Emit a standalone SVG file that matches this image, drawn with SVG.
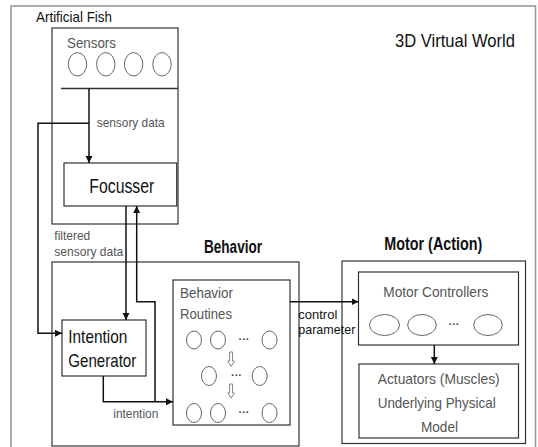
<svg xmlns="http://www.w3.org/2000/svg" width="538" height="447" viewBox="0 0 538 447">
<defs>
<marker id="ah" markerUnits="userSpaceOnUse" markerWidth="8" markerHeight="8" refX="7" refY="3.5" orient="auto">
<path d="M0,0 L7,3.5 L0,7 Z" fill="#111"/>
</marker>
</defs>
<style>
.box{fill:none;stroke:#333;stroke-width:1.2}
.frame{fill:none;stroke:#9a9a9a;stroke-width:1.6}
.ell{fill:none;stroke:#666;stroke-width:1}
.t{font-family:"Liberation Sans",Arial,sans-serif;fill:#111}
.g{font-family:"Liberation Sans",Arial,sans-serif;fill:#555}
.d{font-family:"Liberation Sans",Arial,sans-serif;fill:#444;font-weight:bold}
.b{font-family:"Liberation Sans",Arial,sans-serif;font-weight:bold;fill:#111}
.c{fill:none;stroke:#111;stroke-width:1.5}
.da{fill:#fff;stroke:#777;stroke-width:0.9}
</style>
<rect width="538" height="447" fill="#fff"/>
<g id="world">
<rect class="frame" x="11" y="6" width="524.5" height="470"/>
<text class="t" x="395" y="46.5" font-size="19" textLength="120" lengthAdjust="spacingAndGlyphs">3D Virtual World</text>
</g>
<g id="artificial-fish">
<rect class="box" x="52" y="28" width="126" height="196"/>
<text class="t" x="36" y="22" font-size="15" textLength="76" lengthAdjust="spacingAndGlyphs">Artificial Fish</text>
</g>
<g id="sensors">
<text class="g" x="67" y="48" font-size="14.5" textLength="49" lengthAdjust="spacingAndGlyphs">Sensors</text>
<ellipse class="ell" cx="77.5" cy="64.3" rx="9.2" ry="11.7"/>
<ellipse class="ell" cx="105.8" cy="64.3" rx="9.2" ry="11.7"/>
<ellipse class="ell" cx="133.6" cy="64.3" rx="9.2" ry="11.7"/>
<ellipse class="ell" cx="162" cy="64.3" rx="9.2" ry="11.7"/>
<line x1="61" y1="88.5" x2="178" y2="88.5" stroke="#333" stroke-width="1.3"/>
</g>
<g id="focusser">
<rect class="box" x="64" y="163" width="112.7" height="43"/>
<text class="t" x="89.3" y="193" font-size="20.5" textLength="65" lengthAdjust="spacingAndGlyphs">Focusser</text>
</g>
<g id="behavior">
<rect class="box" x="52" y="262" width="247" height="184"/>
<text class="b" x="204" y="253" font-size="17.5" textLength="58" lengthAdjust="spacingAndGlyphs">Behavior</text>
</g>
<g id="intention-generator">
<rect class="box" x="62" y="320" width="84" height="56"/>
<text class="t" x="68.3" y="343" font-size="19" textLength="59" lengthAdjust="spacingAndGlyphs">Intention</text>
<text class="t" x="68.3" y="366.5" font-size="19" textLength="68" lengthAdjust="spacingAndGlyphs">Generator</text>
</g>
<g id="behavior-routines">
<rect class="box" x="173" y="280" width="117" height="145"/>
<text class="g" x="180" y="298" font-size="14.5" textLength="53" lengthAdjust="spacingAndGlyphs">Behavior</text>
<text class="g" x="180" y="319" font-size="14.5" textLength="52" lengthAdjust="spacingAndGlyphs">Routines</text>
<ellipse class="ell" cx="194" cy="340" rx="7.5" ry="9"/>
<ellipse class="ell" cx="218" cy="340" rx="7.5" ry="9"/>
<text class="d" x="244" y="343" font-size="11" text-anchor="middle">···</text>
<ellipse class="ell" cx="269.5" cy="340" rx="7.5" ry="9"/>
<polygon class="da" points="229.6,352 232.6,352 232.6,361 234.4,361 231.1,366.5 227.8,361 229.6,361"/>
<ellipse class="ell" cx="209" cy="376" rx="7.5" ry="9.5"/>
<text class="d" x="236.5" y="379" font-size="11" text-anchor="middle">···</text>
<ellipse class="ell" cx="259.7" cy="376" rx="7.5" ry="9.5"/>
<polygon class="da" points="229.6,384 232.6,384 232.6,393 234.4,393 231.1,398 227.8,393 229.6,393"/>
<ellipse class="ell" cx="194" cy="413" rx="7.5" ry="9.5"/>
<ellipse class="ell" cx="218" cy="413" rx="7.5" ry="9.5"/>
<text class="d" x="244" y="416" font-size="11" text-anchor="middle">···</text>
<ellipse class="ell" cx="269.5" cy="413" rx="7.5" ry="9.5"/>
</g>
<g id="motor">
<rect class="box" x="342" y="261" width="183.5" height="182.5"/>
<text class="b" x="384.3" y="250" font-size="17.5" textLength="98" lengthAdjust="spacingAndGlyphs">Motor (Action)</text>
</g>
<g id="motor-controllers">
<rect class="box" x="358.5" y="272" width="160" height="73"/>
<text class="g" x="383.3" y="296.5" font-size="14.5" textLength="105" lengthAdjust="spacingAndGlyphs">Motor Controllers</text>
<ellipse class="ell" cx="384.5" cy="325" rx="15" ry="10.5"/>
<ellipse class="ell" cx="422" cy="325" rx="14.3" ry="10.5"/>
<text class="d" x="454" y="328" font-size="11" text-anchor="middle">···</text>
<ellipse class="ell" cx="488" cy="325" rx="14.3" ry="10.5"/>
</g>
<g id="actuators">
<rect class="box" x="359" y="364" width="159.5" height="74"/>
<text class="g" x="377.7" y="384" font-size="14.5" textLength="122" lengthAdjust="spacingAndGlyphs">Actuators (Muscles)</text>
<text class="g" x="377.7" y="408" font-size="14.5" textLength="118" lengthAdjust="spacingAndGlyphs">Underlying Physical</text>
<text class="g" x="421" y="432" font-size="14.5" textLength="37" lengthAdjust="spacingAndGlyphs">Model</text>
</g>
<g id="connectors">
<path class="c" d="M89,88.5 V163" marker-end="url(#ah)"/>
<path class="c" d="M89,123.3 H38 V333.3 H62" marker-end="url(#ah)"/>
<path class="c" d="M126,206 V320" marker-end="url(#ah)"/>
<path class="c" d="M103.3,376 V401.7 H173" marker-end="url(#ah)"/>
<path class="c" d="M155,401.7 V301.7 H136.7 V206" marker-end="url(#ah)"/>
<path class="c" d="M290,301.7 H358.5" marker-end="url(#ah)"/>
<path class="c" d="M434.3,345 V364" marker-end="url(#ah)"/>
<text class="g" x="96.7" y="127" font-size="13" textLength="68" lengthAdjust="spacingAndGlyphs">sensory data</text>
<text class="g" x="54.3" y="240" font-size="13" textLength="36" lengthAdjust="spacingAndGlyphs">filtered</text>
<text class="g" x="54.3" y="256" font-size="13" textLength="69" lengthAdjust="spacingAndGlyphs">sensory data</text>
<text class="g" x="113.3" y="418" font-size="13" textLength="45" lengthAdjust="spacingAndGlyphs">intention</text>
<text class="t" x="298.3" y="319" font-size="13" fill="#333" textLength="39" lengthAdjust="spacingAndGlyphs">control</text>
<text class="t" x="298.3" y="334" font-size="13" fill="#333" textLength="57" lengthAdjust="spacingAndGlyphs">parameter</text>
</g>
</svg>
